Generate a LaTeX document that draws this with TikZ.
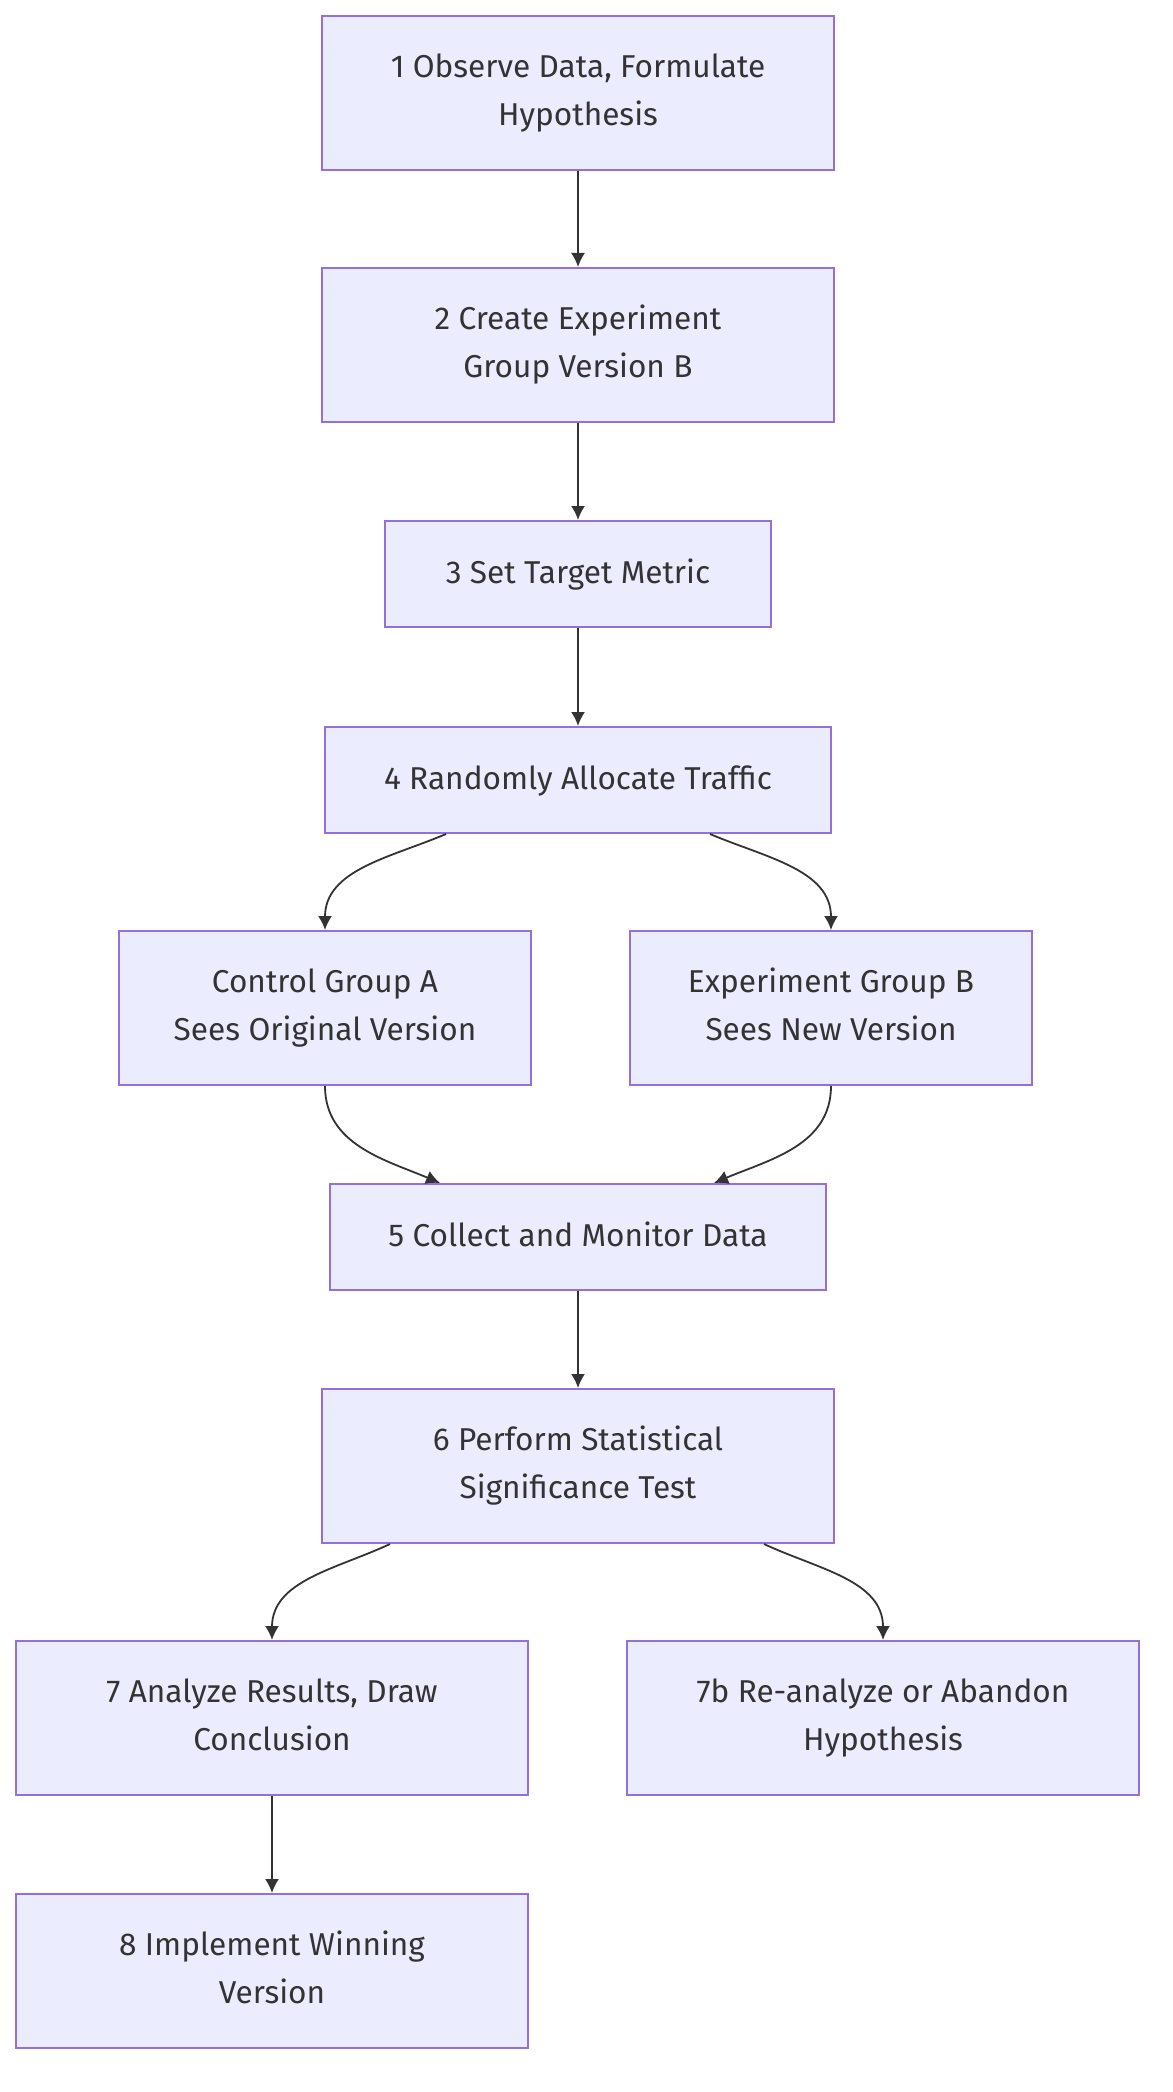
\documentclass[tikz,border=0pt]{standalone}
\usepackage{fontspec}
\setmainfont{Fira Sans}
\usetikzlibrary{arrows.meta}
\definecolor{boxfill}{HTML}{ECECFF}
\definecolor{boxline}{HTML}{9370DB}
\definecolor{ink}{HTML}{333333}
\begin{document}
\begin{tikzpicture}[x=0.5pt,y=-0.5pt,
    stepbox/.style={draw=boxline,fill=boxfill,line width=1pt,text=ink,align=center,
        font=\fontsize{15.8}{24}\selectfont,inner sep=0pt,minimum height=77pt,
        execute at begin node=\strut,execute at end node=\strut},
    steptext/.style={text=ink,align=center,font=\fontsize{15.8}{24}\selectfont,inner sep=0pt},
    flow/.style={draw=ink,line width=0.9pt,-{Latex[length=7pt,width=7pt]}}]
    \useasboundingbox (0,0) rectangle (1172,2092);
    % steps
    \node[stepbox,minimum width=256pt,label={[steptext]center:{1 Observe Data, Formulate\\Hypothesis\vphantom{p}}}] (obs) at (578,93) {};
    \node[stepbox,minimum width=256pt,label={[steptext]center:{2 Create Experiment\\Group Version B\vphantom{p}}}] (create) at (578,345) {};
    \node[stepbox,minimum width=193pt,minimum height=53pt] (metric) at (578,574) {3 Set Target Metric};
    \node[stepbox,minimum width=253pt,minimum height=53pt] (alloc) at (578,780) {4 Randomly Allocate Traffic};
    \node[stepbox,minimum width=206pt,label={[steptext]center:{Control Group A\\Sees Original Version\vphantom{p}}}] (grpA) at (325,1008) {};
    \node[stepbox,minimum width=201pt,label={[steptext]center:{Experiment Group B\\Sees New Version\vphantom{p}}}] (grpB) at (831,1008) {};
    \node[stepbox,minimum width=248pt,minimum height=53pt] (collect) at (578,1237) {5 Collect and Monitor Data};
    \node[stepbox,minimum width=256pt,label={[steptext]center:{6 Perform Statistical\\Significance Test\vphantom{p}}}] (test) at (578,1466) {};
    \node[stepbox,minimum width=256pt,label={[steptext]center:{7 Analyze Results, Draw\\Conclusion\vphantom{p}}}] (concl) at (272,1718) {};
    \node[stepbox,minimum width=256pt,label={[steptext]center:{7b Re-analyze or Abandon\\Hypothesis\vphantom{p}}}] (redo) at (883,1718) {};
    \node[stepbox,minimum width=256pt,label={[steptext]center:{8 Implement Winning\\Version\vphantom{p}}}] (impl) at (272,1971) {};
    % straight links
    \foreach \a/\b in {obs/create, create/metric, metric/alloc, collect/test, concl/impl} {
        \draw[flow] (\a) -- (\b);
    }
    % split and merge
    \draw[flow] ([xshift=-66pt]alloc.south) to[out=203,in=90] (grpA.north);
    \draw[flow] ([xshift=66pt]alloc.south) to[out=-23,in=90] (grpB.north);
    \draw[flow] (grpA.south) to[out=-90,in=157] ([xshift=-69pt]collect.north);
    \draw[flow] (grpB.south) to[out=-90,in=23] ([xshift=68pt]collect.north);
    \draw[flow] ([xshift=-94pt]test.south) to[out=205,in=90] (concl.north);
    \draw[flow] ([xshift=93pt]test.south) to[out=-25,in=90] (redo.north);
\end{tikzpicture}
\end{document}
